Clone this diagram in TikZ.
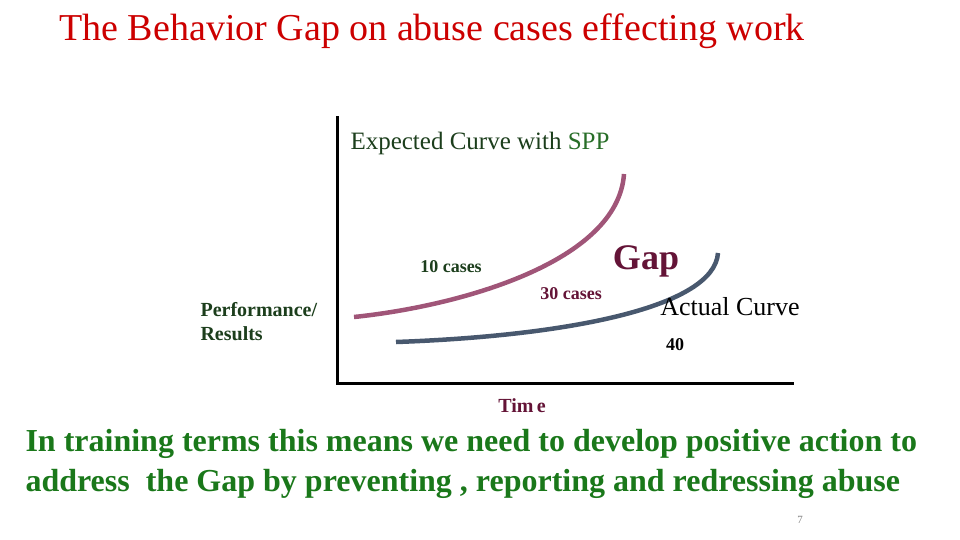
\documentclass[tikz,border=0pt]{standalone}
\usepackage{fontspec}
\setmainfont{Liberation Serif}
\definecolor{titlered}{RGB}{204,0,0}
\definecolor{darkgreen}{RGB}{28,62,28}
\definecolor{sppgreen}{RGB}{40,110,40}
\definecolor{maroon}{RGB}{100,20,55}
\definecolor{expcurve}{RGB}{160,85,120}
\definecolor{actcurve}{RGB}{72,88,110}
\definecolor{textgreen}{RGB}{26,120,26}
\begin{document}
\begin{tikzpicture}[x=1pt,y=-1pt,line cap=round]
	\useasboundingbox (0,0) rectangle (960,540);
	\node (title) at (432, 31)	[text=titlered, font=\fontsize{38}{40}\selectfont]	{The Behavior Gap on abuse cases effecting work};
	% axes
	\coordinate (O) at (337, 383);
	\coordinate (Y) at (337, 118);
	\coordinate (X) at (792, 383);
	\draw[line width=3pt, line cap=rect] (Y) -- (O) -- (X);
	% curves
	\coordinate (E1) at (354, 317);
	\coordinate (E2) at (624, 174);
	\coordinate (A1) at (396, 342);
	\coordinate (A2) at (718, 253);
	\draw[expcurve, line width=4.5pt, line cap=butt] (E1) .. controls (460, 306) and (618, 262) .. (E2);
	\draw[actcurve, line width=4.5pt, line cap=butt] (A1) .. controls (565, 336) and (714, 308) .. (A2);
	% labels
	\node (exp) at (480, 143)	[text=darkgreen, font=\fontsize{25}{28}\selectfont]	{Expected Curve with \textcolor{sppgreen}{SPP}};
	\node (ten) at (451, 267)	[text=darkgreen, font=\bfseries\fontsize{18}{20}\selectfont]	{10 cases};
	\node (thirty) at (571, 294)	[text=maroon, font=\bfseries\fontsize{18}{20}\selectfont]	{30 cases};
	\node (gap) at (646, 261)	[text=maroon, font=\bfseries\fontsize{36}{40}\selectfont]	{Gap};
	\node (act) at (730, 307)	[font=\fontsize{26}{30}\selectfont]	{Actual Curve};
	\node (forty) at (675, 345)	[font=\bfseries\fontsize{18}{20}\selectfont]	{40};
	\node (time) at (522, 406)	[text=maroon, font=\bfseries\fontsize{20}{22}\selectfont]	{Tim\,e};
	\node (perf) at (197, 322)	[anchor=west, align=left, text=darkgreen, font=\bfseries\fontsize{20}{24}\selectfont]	{Performance/\\Results};
	\node (msg) at (22, 464)	[anchor=west, align=left, text=textgreen, font=\bfseries\fontsize{32}{40}\selectfont]	{In training terms this means we need to develop positive action to\\address\ \ the Gap by preventing , reporting and redressing abuse};
	\node (page) at (800, 520)	[text=gray, font=\fontsize{11}{12}\selectfont]	{7};
\end{tikzpicture}
\end{document}
